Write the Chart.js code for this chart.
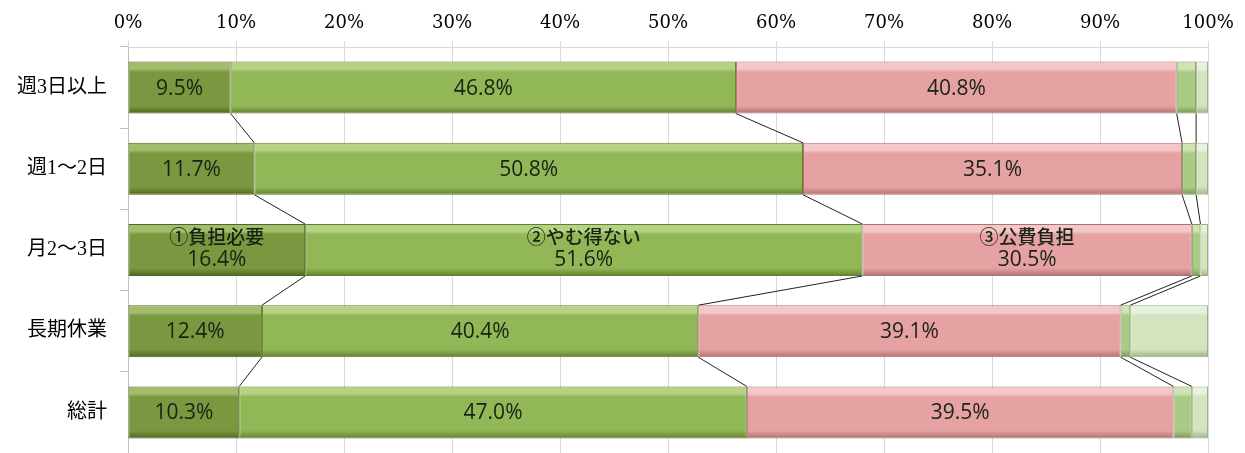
<!DOCTYPE html>
<html>
<head>
<meta charset="utf-8">
<script src="https://cdn.jsdelivr.net/npm/chart.js@4/dist/chart.umd.min.js"></script>
<style>
    html, body { margin: 0; padding: 0; background: #fff; }
    #wrap { width: 1245px; height: 453px; }
</style>
</head>
<body>
<div id="wrap"><canvas id="ratioChart" width="1245" height="453"></canvas></div>
<script>
const categories = ['週3日以上', '週1～2日', '月2～3日', '長期休業', '総計'];
const seriesNames = ['①負担必要', '②やむ得ない', '③公費負担', '④', '⑤'];
const burdenNeeded = [9.5, 11.7, 16.4, 12.4, 10.3];
const unavoidable = [46.8, 50.8, 51.6, 40.4, 47.0];
const publicBurden = [40.8, 35.1, 30.5, 39.1, 39.5];
const otherA = [1.8, 1.3, 0.8, 0.9, 1.7];
const otherB = [1.1, 1.1, 0.7, 7.2, 1.5];
const xTicks = [0, 10, 20, 30, 40, 50, 60, 70, 80, 90, 100];
const namedRow = 2; // row where series names are printed with the value

// base / highlight / shadow per series
const palette = [
    { base: '#7a983f', light: '#a3bd6d', dark: '#50661f' },
    { base: '#91b757', light: '#b6d385', dark: '#627f2e' },
    { base: '#e6a2a2', light: '#f4c8c8', dark: '#b07070' },
    { base: '#aacb86', light: '#cfe3b6', dark: '#789656' },
    { base: '#d3e4bf', light: '#e8f1dd', dark: '#9ab285' }
];

const BAR_PCT = 0.64;

function bevel(idx) {
    return function (ctx) {
        const chart = ctx.chart;
        const y = chart.scales && chart.scales.y;
        const c = palette[idx];
        if (!y || ctx.dataIndex === undefined || !isFinite(y.getPixelForValue(ctx.dataIndex))) return c.base;
        const band = (y.bottom - y.top) / categories.length;
        const mid = y.getPixelForValue(ctx.dataIndex);
        const top = mid - band * BAR_PCT / 2;
        const bottom = mid + band * BAR_PCT / 2;
        const g = chart.ctx.createLinearGradient(0, top, 0, bottom);
        g.addColorStop(0, c.light);
        g.addColorStop(0.14, c.light);
        g.addColorStop(0.2, c.base);
        g.addColorStop(0.85, c.base);
        g.addColorStop(1, c.dark);
        return g;
    };
}

const seriesValues = [burdenNeeded, unavoidable, publicBurden, otherA, otherB];

// thin lines joining segment ends of neighbouring bars
const seriesLines = {
    id: 'seriesLines',
    afterDatasetsDraw(chart) {
        const ctx = chart.ctx;
        ctx.save();
        ctx.strokeStyle = '#222';
        ctx.lineWidth = 1;
        for (let d = 0; d < 4; d++) {
            const meta = chart.getDatasetMeta(d);
            for (let i = 0; i < meta.data.length - 1; i++) {
                const a = meta.data[i].getProps(['x', 'y', 'height'], true);
                const b = meta.data[i + 1].getProps(['x', 'y', 'height'], true);
                ctx.beginPath();
                ctx.moveTo(a.x, a.y + a.height / 2);
                ctx.lineTo(b.x, b.y - b.height / 2);
                ctx.stroke();
            }
        }
        ctx.restore();
    }
};

const valueLabels = {
    id: 'valueLabels',
    afterDatasetsDraw(chart) {
        const ctx = chart.ctx;
        ctx.save();
        ctx.fillStyle = '#172314';
        ctx.textAlign = 'center';
        ctx.textBaseline = 'middle';
        for (let d = 0; d < 3; d++) {
            const meta = chart.getDatasetMeta(d);
            meta.data.forEach((el, i) => {
                const p = el.getProps(['x', 'y', 'base'], true);
                const cx = (p.x + p.base) / 2;
                const txt = seriesValues[d][i].toFixed(1) + '%';
                if (i === namedRow) {
                    ctx.font = '500 19px "Noto Sans CJK JP"';
                    ctx.fillText(seriesNames[d], cx, p.y - 13);
                    ctx.font = '500 21px "Open Sans"';
                    ctx.fillText(txt, cx, p.y + 10);
                } else {
                    ctx.font = '500 21px "Open Sans"';
                    ctx.fillText(txt, cx, p.y + 1);
                }
            });
        }
        ctx.restore();
    }
};

const datasets = seriesValues.map((vals, idx) => ({
    label: seriesNames[idx],
    data: vals,
    backgroundColor: bevel(idx),
    borderColor: palette[idx].dark,
    borderWidth: 1,
    borderSkipped: false,
    barPercentage: BAR_PCT,
    categoryPercentage: 1
}));

new Chart(document.getElementById('ratioChart'), {
    type: 'bar',
    data: { labels: categories, datasets: datasets },
    options: {
        indexAxis: 'y',
        responsive: false,
        animation: false,
        layout: { padding: { left: 0, right: 37, top: 0, bottom: 0 } },
        plugins: { legend: { display: false }, tooltip: { enabled: false } },
        scales: {
            x: {
                position: 'top',
                stacked: true,
                min: 0,
                max: 100,
                afterBuildTicks: (scale) => { scale.ticks = xTicks.map(v => ({ value: v })); },
                afterFit: (scale) => { scale.height = 47; },
                grid: { color: '#d9d9d9', tickLength: 6, tickColor: '#d9d9d9' },
                border: { color: '#d9d9d9' },
                ticks: {
                    padding: 7,
                    color: '#000',
                    font: { family: '"DejaVu Serif"', size: 18 },
                    callback: (v) => v + '%'
                }
            },
            y: {
                stacked: true,
                afterFit: (scale) => {
                    scale.width = 128;
                    scale.paddingTop = 0;
                    scale.paddingBottom = 0;
                },
                grid: { offset: true, drawOnChartArea: false, tickLength: 8, color: '#bfbfbf' },
                border: { color: '#bfbfbf' },
                ticks: {
                    padding: 13,
                    color: '#000',
                    font: { family: '"Liberation Serif", "Noto Sans CJK JP"', size: 20 }
                }
            }
        }
    },
    plugins: [seriesLines, valueLabels]
});
</script>
</body>
</html>
